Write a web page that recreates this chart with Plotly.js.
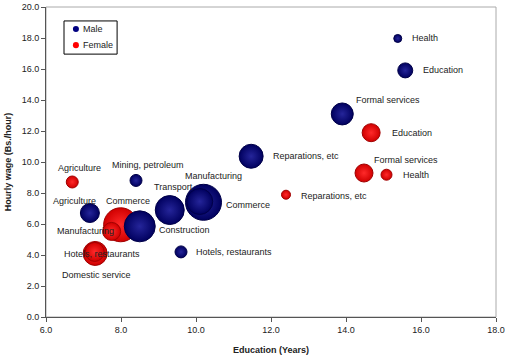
<!DOCTYPE html>
<html>
<head>
<meta charset="utf-8">
<script src="https://cdn.plot.ly/plotly-3.0.1.min.js"></script>
<style>html,body{margin:0;padding:0;background:#fff}#chart{width:510px;height:361px}</style>
</head>
<body>
<div id="chart"></div>
<script>
// ---- data ----
var maleSectors = ["Health", "Education", "Formal services", "Reparations, etc", "Mining, petroleum",
  "Agriculture", "Construction", "Transport", "Commerce", "Manufacturing", "Hotels, restaurants"];
var maleEducation = [15.38, 15.58, 13.90, 11.47, 8.40, 7.17, 8.50, 9.30, 10.20, 10.10, 9.60];
var maleWage = [17.97, 15.91, 13.10, 10.37, 8.81, 6.71, 5.85, 6.90, 7.40, 7.45, 4.20];
var maleSize = [8, 15, 22, 24, 12, 19, 31, 29, 36, 26, 12];

var femaleSectors = ["Agriculture", "Commerce", "Manufacturing", "Domestic service", "Hotels, restaurants",
  "Education", "Formal services", "Health", "Reparations, etc"];
var femaleEducation = [6.70, 7.99, 7.75, 7.31, 7.30, 14.67, 14.48, 15.08, 12.40];
var femaleWage = [8.71, 5.95, 5.52, 4.10, 4.20, 11.89, 9.29, 9.18, 7.89];
var femaleSize = [12, 34, 18, 24, 19, 18, 18, 11, 9];

var seriesNames = ["Male", "Female"];
var seriesColors = ["#000080", "#ff0000"];

var xTicks = [6, 8, 10, 12, 14, 16, 18];
var yTicks = [0, 2, 4, 6, 8, 10, 12, 14, 16, 18, 20];

// ---- label placement (layout only) ----
var maleLabelPos = [
  ["left", 12, 0], ["left", 16, 0], ["left", 12, 14], ["left", 20, 0], ["center", 12, 15],
  ["center", -15, 12], ["left", 17, -4], ["center", 4, 23], ["left", 20, -3], ["center", 14, 26], ["left", 13, 0]
];
var femaleLabelPos = [
  ["center", 7, 14], ["center", 7, 24], ["center", -26, 0], ["center", 1, -22], ["center", 7, -2],
  ["left", 19, 0], ["left", 8, 13], ["left", 14, 0], ["left", 13, -1]
];

var FONT = "Liberation Sans, Arial, sans-serif";
var annotations = [];
function addLabels(names, xs, ys, pos) {
  for (var i = 0; i < names.length; i++) {
    annotations.push({
      x: xs[i], y: ys[i], xref: "x", yref: "y", text: names[i], showarrow: false,
      xanchor: pos[i][0], yanchor: "middle", xshift: pos[i][1], yshift: pos[i][2],
      font: {family: FONT, size: 9, color: "#222"}
    });
  }
}
addLabels(femaleSectors, femaleEducation, femaleWage, femaleLabelPos);
addLabels(maleSectors, maleEducation, maleWage, maleLabelPos);

// ---- legend box (drawn as shapes + text) ----
var shapes = [
  {type: "rect", xref: "paper", yref: "paper", x0: 0, x1: 1, y0: 0, y1: 1,
    line: {color: "#aaa", width: 1}, layer: "below"},
  {type: "rect", xref: "paper", yref: "paper", x0: 0.04, x1: 0.158, y0: 0.848, y1: 0.955,
    line: {color: "#000", width: 1}, fillcolor: "#fff"}
];
var legendY = [0.929, 0.877];
for (var k = 0; k < seriesNames.length; k++) {
  shapes.push({type: "circle", xref: "paper", yref: "paper",
    x0: 0.0665 - 0.0067, x1: 0.0665 + 0.0067, y0: legendY[k] - 0.0097, y1: legendY[k] + 0.0097,
    fillcolor: seriesColors[k], line: {color: seriesColors[k], width: 0}});
  annotations.push({xref: "paper", yref: "paper", x: 0.077, y: legendY[k], text: seriesNames[k],
    showarrow: false, xanchor: "left", yanchor: "middle", font: {family: FONT, size: 9, color: "#222"}});
}

var traces = [
  {
    type: "scatter", mode: "markers", name: "Female", showlegend: false,
    x: femaleEducation, y: femaleWage, text: femaleSectors, hoverinfo: "text+x+y",
    marker: {size: femaleSize, sizemode: "diameter", color: "#d00000", opacity: 1,
      gradient: {type: "radial", color: "#ff2a2a"},
      line: {color: "#a00000", width: 1}}
  },
  {
    type: "scatter", mode: "markers", name: "Male", showlegend: false,
    x: maleEducation, y: maleWage, text: maleSectors, hoverinfo: "text+x+y",
    marker: {size: maleSize, sizemode: "diameter", color: "#00005e", opacity: 1,
      gradient: {type: "radial", color: "#25259a"},
      line: {color: "#000048", width: 1}}
  }
];

var layout = {
  width: 510, height: 361,
  margin: {l: 46, r: 14, t: 7, b: 44},
  paper_bgcolor: "#fff", plot_bgcolor: "#fff",
  font: {family: FONT, size: 9, color: "#222"},
  showlegend: false,
  xaxis: {range: [6, 18], tickvals: xTicks, tickformat: ".1f", showgrid: false, zeroline: false,
    showline: true, linecolor: "#555", linewidth: 1, ticks: "outside", ticklen: 4, tickcolor: "#555",
    tickfont: {family: FONT, size: 9, color: "#222"},
    title: {text: "<b>Education (Years)</b>", font: {family: FONT, size: 9, color: "#222"}, standoff: 12}},
  yaxis: {range: [0, 20], tickvals: yTicks, tickformat: ".1f", showgrid: false, zeroline: false,
    showline: true, linecolor: "#555", linewidth: 1, ticks: "outside", ticklen: 4, tickcolor: "#555",
    tickfont: {family: FONT, size: 9, color: "#222"},
    title: {text: "<b>Hourly wage (Bs./hour)</b>", font: {family: FONT, size: 9, color: "#222"}, standoff: 8}},
  shapes: shapes,
  annotations: annotations
};

Plotly.newPlot("chart", traces, layout, {displayModeBar: false, staticPlot: true});
</script>
</body>
</html>
